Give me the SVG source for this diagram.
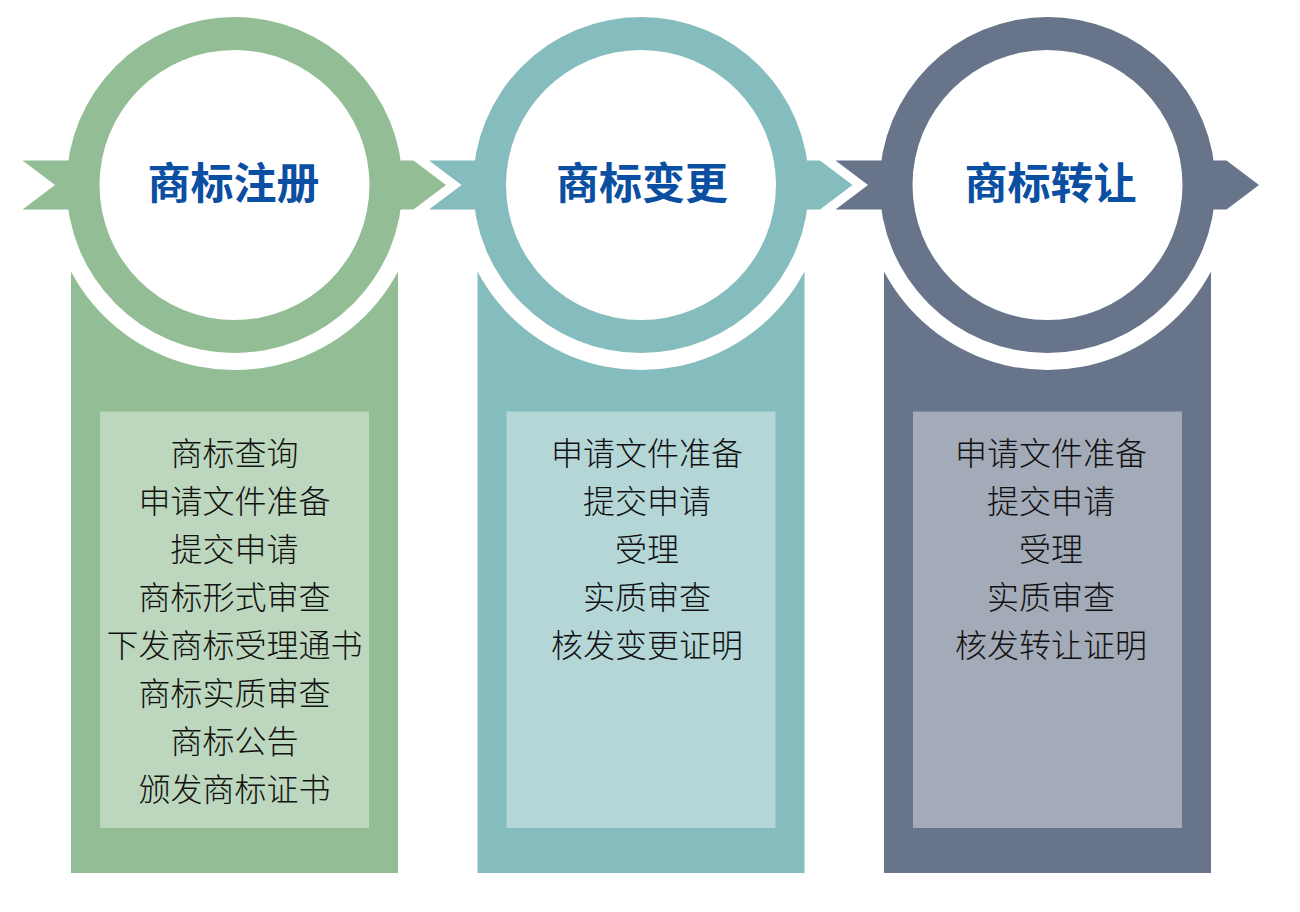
<svg xmlns="http://www.w3.org/2000/svg" width="1300" height="912" viewBox="0 0 1300 912">
<style>
.title{font-family:"Noto Sans CJK SC","Noto Sans",sans-serif;font-size:43px;font-weight:700;fill:#0B4FA3;text-anchor:middle}
.item{font-family:"Noto Sans CJK SC","Noto Sans",sans-serif;font-size:32px;font-weight:300;fill:#111111;text-anchor:middle}
.white{fill:#ffffff}
.g1 .main{fill:#93BE95}.g1 .box{fill:#BDD7BE}
.g2 .main{fill:#85BCBD}.g2 .box{fill:#B4D6D7}
.g3 .main{fill:#687489}.g3 .box{fill:#A3AAB8}
</style>
<rect width="1300" height="912" fill="#ffffff"/>
<g id="node-register" class="g1">
<g transform="translate(234.5,0)">
<rect class="main" x="-163.5" y="272" width="327" height="601"/>
<circle class="white" cx="0" cy="185" r="185"/>
<polygon class="main" points="-212,160.5 179,160.5 211.5,185 179,209.5 -212,209.5 -179.5,185"/>
<circle class="main" cx="0" cy="185" r="168"/>
<circle class="white" cx="0" cy="185" r="135"/>
<rect class="box" x="-134.5" y="411.5" width="269" height="416.5"/>
</g>
<text class="title" x="233.5" y="198.5">商标注册</text>
<text class="item" x="234.5" y="464.5">商标查询</text>
<text class="item" x="234.5" y="512.5">申请文件准备</text>
<text class="item" x="234.5" y="560.5">提交申请</text>
<text class="item" x="234.5" y="608.5">商标形式审查</text>
<text class="item" x="234.5" y="656.5">下发商标受理通书</text>
<text class="item" x="234.5" y="704.5">商标实质审查</text>
<text class="item" x="234.5" y="752.5">商标公告</text>
<text class="item" x="234.5" y="800.5">颁发商标证书</text>
</g>
<g id="node-change" class="g2">
<g transform="translate(641,0)">
<rect class="main" x="-163.5" y="272" width="327" height="601"/>
<circle class="white" cx="0" cy="185" r="185"/>
<polygon class="main" points="-212,160.5 179,160.5 211.5,185 179,209.5 -212,209.5 -179.5,185"/>
<circle class="main" cx="0" cy="185" r="168"/>
<circle class="white" cx="0" cy="185" r="135"/>
<rect class="box" x="-134.5" y="411.5" width="269" height="416.5"/>
</g>
<text class="title" x="642" y="198.5">商标变更</text>
<text class="item" x="647" y="464.5">申请文件准备</text>
<text class="item" x="647" y="512.5">提交申请</text>
<text class="item" x="647" y="560.5">受理</text>
<text class="item" x="647" y="608.5">实质审查</text>
<text class="item" x="647" y="656.5">核发变更证明</text>
</g>
<g id="node-transfer" class="g3">
<g transform="translate(1047.5,0)">
<rect class="main" x="-163.5" y="272" width="327" height="601"/>
<circle class="white" cx="0" cy="185" r="185"/>
<polygon class="main" points="-212,160.5 179,160.5 211.5,185 179,209.5 -212,209.5 -179.5,185"/>
<circle class="main" cx="0" cy="185" r="168"/>
<circle class="white" cx="0" cy="185" r="135"/>
<rect class="box" x="-134.5" y="411.5" width="269" height="416.5"/>
</g>
<text class="title" x="1050.5" y="198.5">商标转让</text>
<text class="item" x="1051" y="464.5">申请文件准备</text>
<text class="item" x="1051" y="512.5">提交申请</text>
<text class="item" x="1051" y="560.5">受理</text>
<text class="item" x="1051" y="608.5">实质审查</text>
<text class="item" x="1051" y="656.5">核发转让证明</text>
</g>
<g id="connectors"/>
</svg>
